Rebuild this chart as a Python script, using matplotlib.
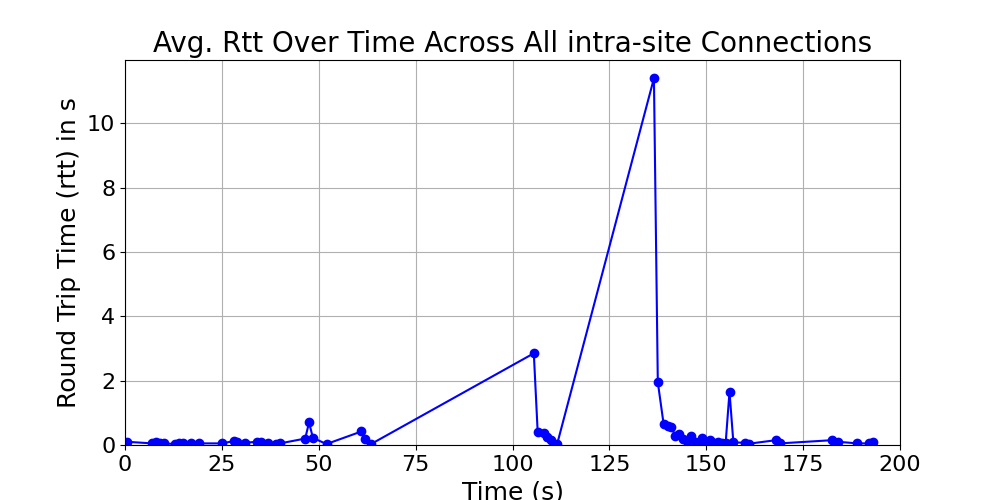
import matplotlib
matplotlib.use("Agg")
import matplotlib.pyplot as plt

time_s = [0.5,7,8,9,10,13,14,15,17,19,25,28,29,31,34,35,37,39,40,46.5,47.5,48.5,52,61,62,63.5,
          105.5,106.5,108,109,110,111.5,136.5,137.5,139,140,141,142,143,144,145,146,147,148,149,150,
          151,152,153,154,155,156,157,160,161,168,169,182.5,184,189,192,193]
rtt = [0.1,0.05,0.1,0.07,0.05,0.03,0.06,0.05,0.06,0.05,0.05,0.12,0.1,0.07,0.1,0.08,0.07,0.03,0.05,0.2,0.7,0.22,0.03,0.42,0.18,0.03,
       2.85,0.4,0.38,0.25,0.15,0.02,11.4,1.95,0.65,0.6,0.55,0.28,0.35,0.2,0.12,0.28,0.1,0.08,0.22,0.08,
       0.15,0.05,0.1,0.06,0.05,1.65,0.08,0.07,0.04,0.15,0.05,0.15,0.1,0.05,0.05,0.1]

fig, ax = plt.subplots(figsize=(10, 5), dpi=100)
ax.plot(time_s, rtt, 'o-', color='blue')
ax.set_xlim(0, 200)
ax.set_ylim(0, None)
ax.grid(True)
ax.set_title("Avg. Rtt Over Time Across All intra-site Connections", fontsize=20)
ax.set_xlabel("Time (s)", fontsize=18)
ax.set_ylabel("Round Trip Time (rtt) in s", fontsize=18)
ax.tick_params(labelsize=16)
fig.savefig("out.png")
